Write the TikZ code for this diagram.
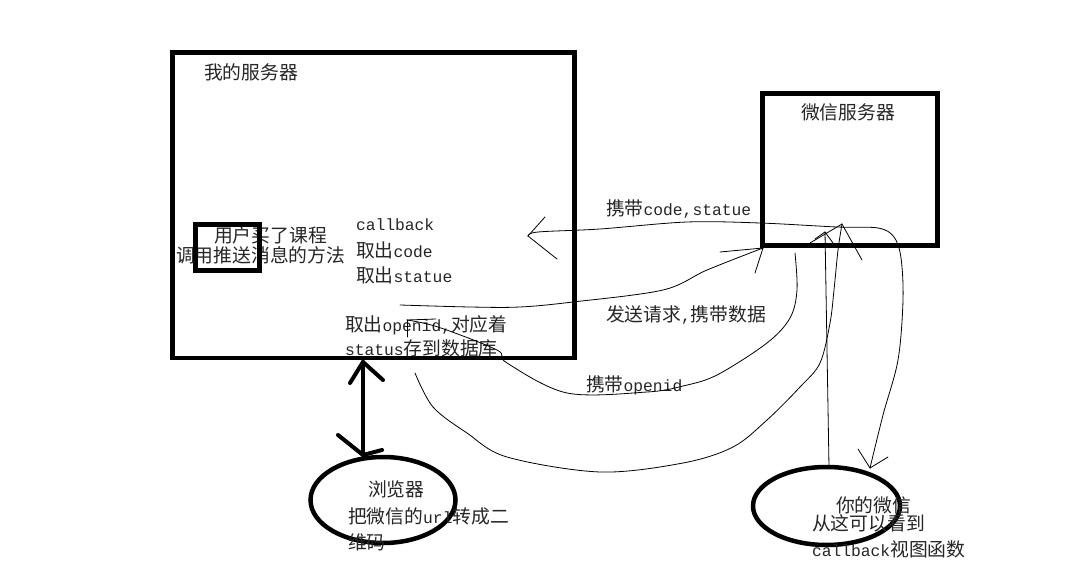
\documentclass[tikz,border=0pt]{standalone}
\usepackage{fontspec}
\usetikzlibrary{shapes.geometric}
\newfontfamily\cjkf{Noto Sans CJK SC}
\newfontfamily\monof{Liberation Mono}
\newcommand\cj{\cjkf\fontsize{18.8}{22}\selectfont}
\newcommand\mo[1]{{\monof\fontsize{16.3}{20}\selectfont #1}}
\begin{document}
\begin{tikzpicture}[x=1pt,y=-1pt,
  thickbox/.style={draw, line width=4.5pt, inner sep=0pt, outer sep=0pt},
  smallbx/.style={draw, line width=5pt, inner sep=0pt, outer sep=0pt, minimum width=64pt, minimum height=46pt},
  oval/.style={ellipse, draw, line width=4.5pt, inner sep=0pt, outer sep=0pt},
  txt/.style={anchor=base west, inner sep=0pt, outer sep=0pt, font=\cj, text=black!85},
  curve/.style={line width=0.8pt, line cap=round, line join=round},
  barb/.style={line width=0.8pt, line cap=round},
  thickln/.style={line width=4pt, line cap=round}
]
\useasboundingbox (0,0) rectangle (1081,569);
\fill[white] (0,0) rectangle (1081,569);

% boxes
\node[thickbox, minimum width=402pt, minimum height=305.5pt] (myserver) at (373.5,205.3) {};
\node[thickbox, minimum width=175pt, minimum height=152pt] (wxserver) at (850,169.5) {};
\node[oval, minimum width=145pt, minimum height=86pt] (browser) at (383,500) {};
\node[oval, minimum width=147pt, minimum height=78pt] (mywx) at (826.5,506) {};

% texts
\node[txt] (tmy) at (204,80) {我的服务器};
\node[txt] (twx) at (801,120) {微信服务器};
\node[txt] (tbuy) at (214,243) {用户买了课程};
\node[txt] (tpush) at (176,262) {调用推送消息的方法};
\node[txt] (tcb) at (356,231) {\mo{callback}};
\node[txt] (tcode) at (356,258) {取出\mo{code}};
\node[txt] (tstat) at (356,283) {取出\mo{statue}};
\node[txt] (topen) at (345,331) {取出\mo{openid,}对应着};
\node[txt] (tsave) at (345,355) {\mo{status}存到数据库};
\node[txt] (tcs) at (606,216) {携带\mo{code,statue}};
\node[txt] (tsend) at (606,321) {发送请求\mo{,}携带数据};
\node[txt] (toid) at (586,391) {携带\mo{openid}};
\node[txt] (tbr) at (368,496) {浏览器};
\node[txt] (tqr) at (348,523) {把微信的\mo{url}转成二};
\node[txt] (tqr2) at (348,549) {维码};
\node[txt] (tyw) at (836,512) {你的微信};
\node[txt] (tsee) at (812,530) {从这可以看到};
\node[txt] (tview) at (812,556) {\mo{callback}视图函数};

% small box drawn over the text
\node[smallbx] (small) at (227.5,247.5) {};

% arrow tips / free ends
\coordinate (tipL) at (528,236);
\coordinate (tipD) at (870,468);
\coordinate (sendS) at (400,305);
\coordinate (sendT) at (763,248);
\coordinate (oidS) at (795,253);
\coordinate (oidT) at (407,320);
\coordinate (bigS) at (415,373);
\coordinate (bigT) at (842,224);
\coordinate (lineS) at (829,467);
\coordinate (lineT) at (825,232);
\coordinate (dblT) at (363,362);
\coordinate (dblB) at (363,455);

% 携带code,statue  (long curve, arrows at both ends)
\draw[curve] plot[smooth, tension=0.55] coordinates {(tipL) (538,232) (600,229) (687,222) (760,223) (837,227) (878,228) (894,237) (901,258) (903,300) (898,360) (883,415) (tipD)};
\draw[barb] (tipL) -- ++(17,-19);
\draw[barb] (tipL) -- ++(29,23);
\draw[barb] (tipD) -- ++(-12,-19);
\draw[barb] (tipD) -- ++(18,-11);

% 发送请求,携带数据
\draw[curve] plot[smooth, tension=0.55] coordinates {(sendS) (470,307) (520,307) (573,302) (663,290) (707,270) (sendT)};
\draw[barb] (sendT) -- (720,252);
\draw[barb] (sendT) -- (755,273);

% 携带openid
\draw[curve] plot[smooth, tension=0.55] coordinates {(oidS) (797,290) (790,318) (767,343) (717,375) (683,386) (647,392) (567,393) (507,363) (497,350) (438,327) (oidT)};
\draw[barb] (oidT) -- (436,319);
\draw[barb] (oidT) -- (407,337);

% big lower curve up to 微信服务器
\draw[curve] plot[smooth, tension=0.55] coordinates {(bigS) (433,407) (467,433) (507,457) (600,472) (683,463) (733,447) (767,420) (800,387) (820,363) (830,323) (834,290) (838,250) (bigT)};
\draw[barb] (bigT) -- (810,243);
\draw[barb] (bigT) -- (862,260);

% straight line from 你的微信 up
\draw[curve] (lineS) -- (lineT);
\draw[barb] (lineT) -- (833,243);
\draw[barb] (lineT) -- (815,239);

% thick double arrow between 我的服务器 and 浏览器
\draw[thickln] (dblT) -- (dblB);
\draw[thickln] (dblT) -- (350,383);
\draw[thickln] (dblT) -- (383,380);
\draw[thickln] (dblB) -- (338,435);
\draw[thickln] (dblB) -- (382,450);
\end{tikzpicture}
\end{document}
